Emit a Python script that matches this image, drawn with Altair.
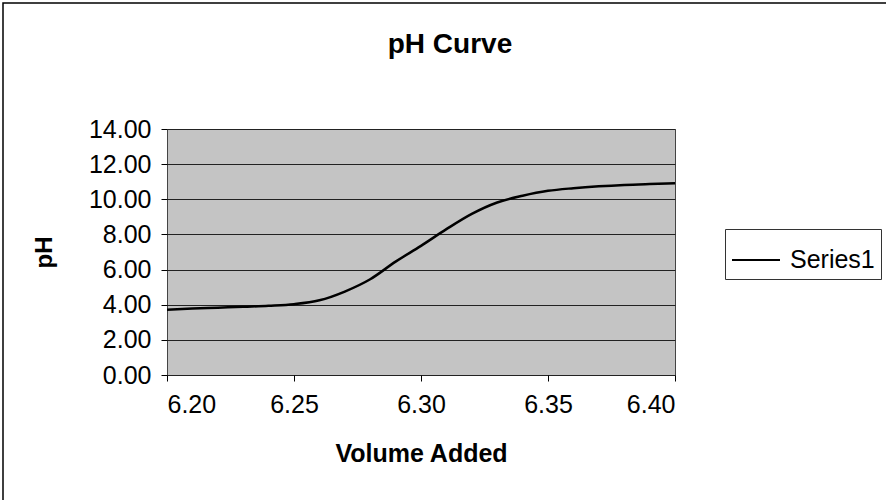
import altair as alt
import pandas as pd

volume = [6.20, 6.21, 6.22, 6.23, 6.24, 6.25, 6.26, 6.27, 6.28, 6.29, 6.30,
          6.31, 6.32, 6.33, 6.34, 6.35, 6.36, 6.37, 6.38, 6.39, 6.40]
ph = [3.72, 3.78, 3.83, 3.88, 3.94, 4.03, 4.25, 4.75, 5.45, 6.45, 7.35,
      8.30, 9.17, 9.82, 10.20, 10.48, 10.63, 10.74, 10.82, 10.87, 10.91]
series = ["Series1"] * len(volume)

x_ticks = [6.20, 6.25, 6.30, 6.35, 6.40]
y_ticks = [0, 2, 4, 6, 8, 10, 12, 14]

df = pd.DataFrame({"volume": volume, "ph": ph, "series": series})
FONT = "Liberation Sans"

line = alt.Chart(df).mark_line(interpolate="monotone", strokeWidth=2.5).encode(
    x=alt.X("volume:Q",
            scale=alt.Scale(domain=[6.20, 6.40], nice=False, zero=False),
            axis=alt.Axis(values=x_ticks, format=".2f", title="Volume Added",
                          grid=False, domain=False, tickColor="black", tickSize=6,
                          labelFontSize=25, labelPadding=11, labelColor="black",
                          labelFont=FONT, titleFont=FONT, titleFontSize=25,
                          titleFontWeight="bold", titleColor="black",
                          titleX=254, titleY=86, titleBaseline="alphabetic")),
    y=alt.Y("ph:Q",
            scale=alt.Scale(domain=[0, 14], nice=False),
            axis=alt.Axis(values=y_ticks, format=".2f", title="pH",
                          grid=True, gridColor="#222222", gridWidth=1,
                          domain=False, tickColor="black", tickSize=6,
                          labelFontSize=25, labelPadding=10, labelColor="black",
                          labelFont=FONT, titleFont=FONT, titleFontSize=24,
                          titleFontWeight="bold", titleColor="black",
                          titleAngle=-90, titleX=-123, titleY=123,
                          titleBaseline="middle", titleAlign="center")),
    color=alt.Color("series:N",
                    scale=alt.Scale(range=["black"]),
                    legend=alt.Legend(title=None, orient="none",
                                      legendX=558, legendY=100,
                                      symbolType="stroke", symbolSize=2304,
                                      symbolStrokeWidth=2, symbolStrokeColor="black",
                                      labelFont=FONT, labelFontSize=25,
                                      labelColor="black", labelOffset=9,
                                      strokeColor="#333333", padding=6,
                                      fillColor="white")),
)

border_df = pd.DataFrame({"k": [0]})
border = alt.Chart(border_df).mark_rect(fill=None, stroke="black", strokeWidth=1.5).encode(
    x=alt.value(-164), x2=alt.value(730),
    y=alt.value(-126), y2=alt.value(390),
)

chart = alt.layer(border, line).properties(
    width=508, height=246,
    title=alt.Title("pH Curve", font=FONT, fontSize=28, fontWeight="bold",
                    color="black", anchor="middle", dx=29, offset=0, dy=79,
                    baseline="alphabetic"),
    autosize=alt.AutoSizeParams(type="none"),
    padding={"left": 167, "top": 129, "right": 211, "bottom": 125},
    background="white",
).configure_view(
    fill="#c4c4c4", stroke="#444444", strokeWidth=1
)

chart.save("out.html", embed_options={"renderer": "svg", "actions": False})
